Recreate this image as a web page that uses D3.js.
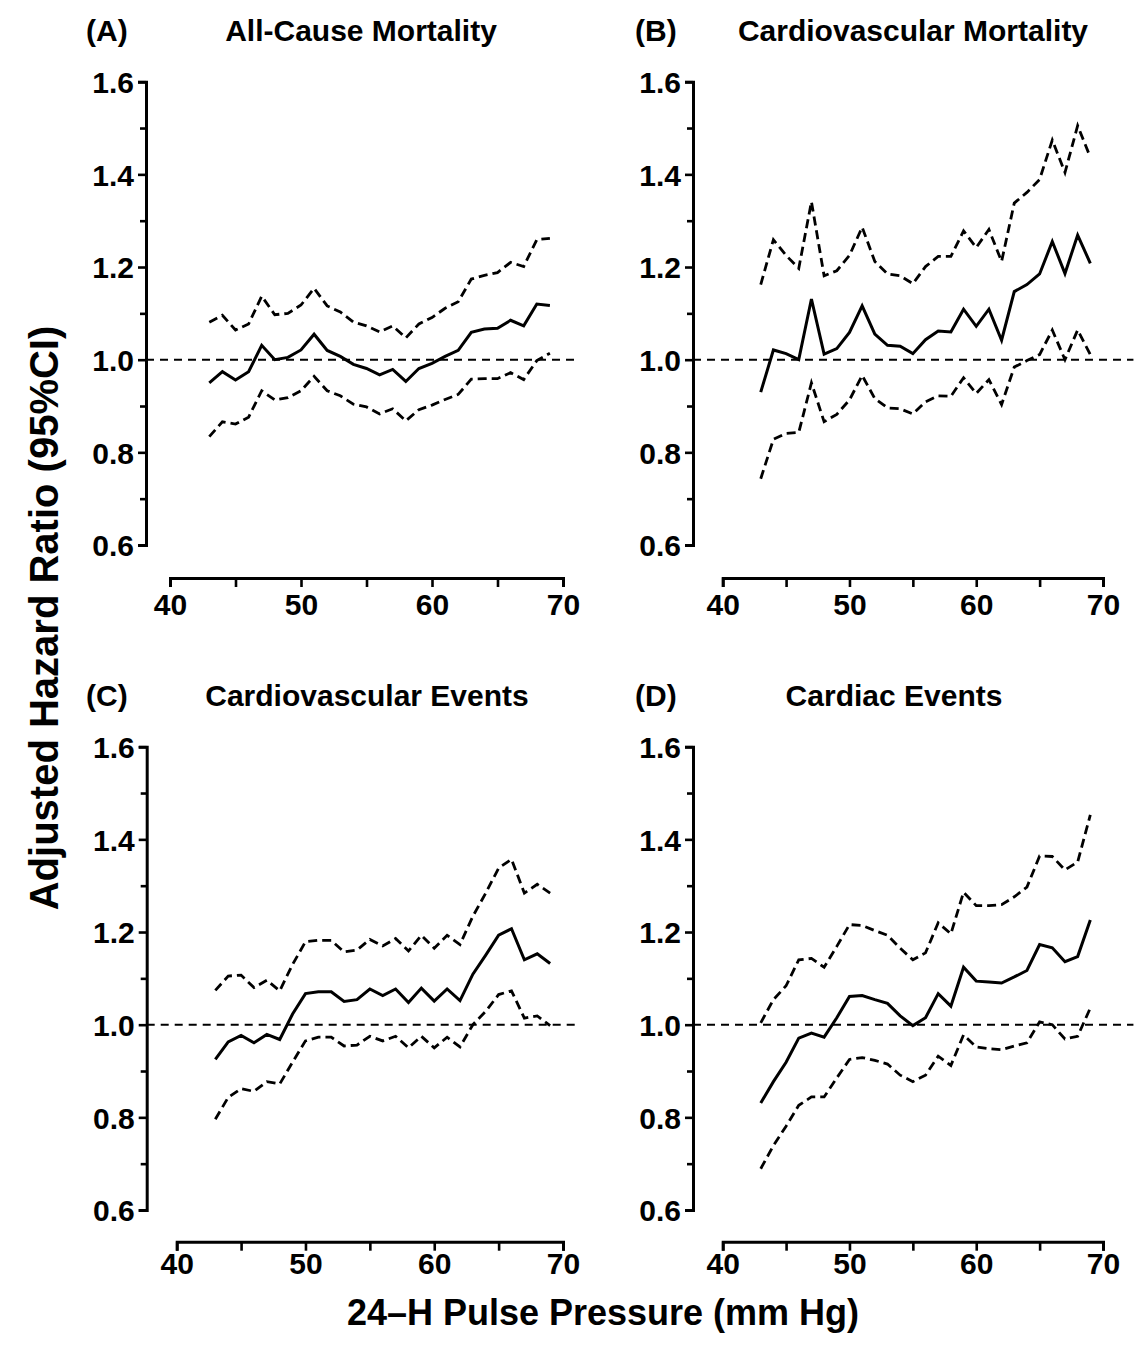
<!DOCTYPE html>
<html>
<head>
<meta charset="utf-8">
<script src="https://cdn.jsdelivr.net/npm/d3@7"></script>
<style>
  body { margin: 0; background: #fff; }
  svg { display: block; }
  text { font-family: "Liberation Sans", Arial, Helvetica, sans-serif; font-weight: bold; fill: #000; }
</style>
</head>
<body>
<div id="chart"></div>
<script>
// pulse pressure (mm Hg) at which each ratio was estimated
const pulsePressure = [43,44,45,46,47,48,49,50,51,52,53,54,55,56,57,58,59,60,61,62,63,64,65,66,67,68,69]

// (A) all-cause mortality
const allCauseHR = [0.950,0.974,0.956,0.974,1.031,1.000,1.005,1.021,1.055,1.020,1.007,0.990,0.981,0.967,0.979,0.953,0.981,0.992,1.007,1.020,1.059,1.066,1.068,1.085,1.073,1.120,1.117]
const allCauseHi = [1.081,1.096,1.064,1.077,1.137,1.097,1.100,1.118,1.154,1.116,1.103,1.081,1.073,1.060,1.073,1.047,1.077,1.091,1.111,1.125,1.174,1.182,1.188,1.210,1.201,1.259,1.262]
const allCauseLo = [0.834,0.866,0.861,0.876,0.933,0.913,0.918,0.933,0.964,0.933,0.922,0.904,0.898,0.883,0.894,0.868,0.892,0.902,0.914,0.925,0.958,0.959,0.959,0.972,0.957,0.998,1.014]

// (B) cardiovascular mortality
const cvMortHR = [0.930,1.021,1.013,1.000,1.131,1.012,1.024,1.059,1.116,1.055,1.031,1.029,1.013,1.043,1.062,1.060,1.109,1.072,1.109,1.042,1.147,1.162,1.185,1.255,1.186,1.269,1.208]
const cvMortHi = [1.162,1.259,1.225,1.197,1.341,1.181,1.192,1.225,1.286,1.212,1.185,1.181,1.164,1.201,1.223,1.223,1.278,1.242,1.281,1.212,1.338,1.361,1.389,1.474,1.404,1.505,1.437]
const cvMortLo = [0.743,0.828,0.841,0.843,0.950,0.866,0.882,0.913,0.966,0.916,0.896,0.894,0.883,0.909,0.922,0.921,0.961,0.927,0.957,0.903,0.984,0.998,1.011,1.064,1.000,1.064,1.011]

// (C) cardiovascular events
const cvEventHR = [0.925,0.963,0.977,0.961,0.979,0.968,1.023,1.067,1.071,1.071,1.050,1.054,1.077,1.063,1.077,1.048,1.079,1.051,1.077,1.052,1.109,1.150,1.193,1.207,1.140,1.153,1.132]
const cvEventHi = [1.074,1.105,1.107,1.080,1.096,1.073,1.130,1.179,1.182,1.182,1.157,1.161,1.184,1.170,1.186,1.159,1.193,1.165,1.193,1.173,1.234,1.284,1.338,1.357,1.284,1.303,1.284]
const cvEventLo = [0.796,0.843,0.862,0.856,0.877,0.872,0.919,0.965,0.973,0.973,0.954,0.956,0.975,0.965,0.975,0.950,0.975,0.950,0.973,0.952,1.000,1.029,1.065,1.073,1.014,1.019,0.998]

// (D) cardiac events
const cardiacHR = [0.831,0.877,0.919,0.971,0.982,0.973,1.015,1.061,1.063,1.054,1.046,1.019,0.998,1.015,1.067,1.040,1.124,1.094,1.092,1.090,1.103,1.117,1.173,1.166,1.136,1.147,1.226]
const cardiacHi = [1.004,1.054,1.084,1.140,1.143,1.124,1.169,1.216,1.214,1.203,1.193,1.165,1.140,1.155,1.220,1.196,1.286,1.257,1.257,1.259,1.276,1.297,1.364,1.363,1.334,1.351,1.453]
const cardiacLo = [0.689,0.739,0.781,0.826,0.844,0.844,0.885,0.925,0.929,0.923,0.915,0.891,0.877,0.891,0.932,0.912,0.978,0.952,0.948,0.946,0.954,0.961,1.006,1.000,0.969,0.975,1.036]

const yTicks = [0.6,0.7,0.8,0.9,1.0,1.1,1.2,1.3,1.4,1.5,1.6]
const yLabels = [0.6,0.8,1.0,1.2,1.4,1.6]
const xTicks = [40,45,50,55,60,65,70]
const xLabels = [40,50,60,70]

const width = 1137
const height = 1359

const panels = [
    { letter: "(A)", title: "All-Cause Mortality", hr: allCauseHR, lo: allCauseLo, hi: allCauseHi,
      axisX: 146, xr: [170, 563], yr: [545, 81.7], baseY: 578, labelY: 37, refEnd: 71.2, letterX: 86, titleX: 361 },
    { letter: "(B)", title: "Cardiovascular Mortality", hr: cvMortHR, lo: cvMortLo, hi: cvMortHi,
      axisX: 693, xr: [722.7, 1103], yr: [545, 81.7], baseY: 578, labelY: 37, refEnd: 72.4, letterX: 635, titleX: 913 },
    { letter: "(C)", title: "Cardiovascular Events", hr: cvEventHR, lo: cvEventLo, hi: cvEventHi,
      axisX: 146.7, xr: [176.7, 563], yr: [1210, 746.7], baseY: 1241.7, labelY: 32, refEnd: 71.2, letterX: 86, titleX: 367 },
    { letter: "(D)", title: "Cardiac Events", hr: cardiacHR, lo: cardiacLo, hi: cardiacHi,
      axisX: 693, xr: [722.7, 1103], yr: [1210, 746.7], baseY: 1241.7, labelY: 32, refEnd: 72.4, letterX: 635, titleX: 894 }
]

const svg = d3.select("#chart")
    .append("svg")
    .attr("width", width)
    .attr("height", height)

function isMajor(d) {
    return yLabels.some(v => Math.abs(v - d) < 1e-6)
}

function drawPanel(p) {
    let x = d3.scaleLinear().domain([40, 70]).range(p.xr)
    let y = d3.scaleLinear().domain([0.6, 1.6]).range(p.yr)
    let g = svg.append("g")

    // y axis
    let yAxis = d3.axisLeft(y)
        .tickValues(yTicks)
        .tickSizeOuter(0)
        .tickSize(8)
        .tickPadding(4)
        .tickFormat(d => isMajor(d) ? d3.format(".1f")(d) : "")
    let ya = g.append("g")
        .attr("transform", "translate(" + p.axisX + ",0)")
        .call(yAxis)
    ya.select(".domain").attr("stroke-width", 3).attr("stroke", "#000")
    ya.selectAll(".tick line").attr("stroke-width", 2.6).attr("stroke", "#000")
        .attr("x2", d => isMajor(d) ? -8 : -6)
    ya.selectAll(".tick text").style("font-size", "30px").style("font-family", null).attr("fill", "#000")
        .attr("dy", "0.36em")

    // x axis
    let xAxis = d3.axisBottom(x)
        .tickValues(xTicks)
        .tickSizeOuter(0)
        .tickSize(9)
        .tickFormat(d => xLabels.includes(d) ? d : "")
    let xa = g.append("g")
        .attr("transform", "translate(0," + p.baseY + ")")
        .call(xAxis)
    xa.select(".domain").attr("stroke-width", 3).attr("stroke", "#000")
    xa.selectAll(".tick line").attr("stroke-width", 2.6).attr("stroke", "#000")
    xa.selectAll(".tick text").style("font-size", "30px").style("font-family", null).attr("fill", "#000")
        .attr("y", p.labelY).attr("dy", 0)

    // reference line at HR = 1
    g.append("line")
        .attr("x1", p.axisX).attr("x2", x(p.refEnd))
        .attr("y1", y(1)).attr("y2", y(1))
        .attr("stroke", "#000")
        .attr("stroke-width", 2)
        .attr("stroke-dasharray", "8,6")

    let line = d3.line()
        .x((d, i) => x(pulsePressure[i]))
        .y(d => y(d))

    g.append("path").datum(p.hi).attr("d", line)
        .attr("fill", "none").attr("stroke", "#000").attr("stroke-width", 2.8)
        .attr("stroke-dasharray", "9,5")
    g.append("path").datum(p.lo).attr("d", line)
        .attr("fill", "none").attr("stroke", "#000").attr("stroke-width", 2.8)
        .attr("stroke-dasharray", "9,5")
    g.append("path").datum(p.hr).attr("d", line)
        .attr("fill", "none").attr("stroke", "#000").attr("stroke-width", 3)

    // titles
    let ty = y(1.6) - 41
    g.append("text").attr("x", p.letterX).attr("y", ty)
        .style("font-size", "30px").text(p.letter)
    g.append("text").attr("x", p.titleX).attr("y", ty)
        .attr("text-anchor", "middle")
        .style("font-size", "30px").text(p.title)
}

panels.forEach(drawPanel)

svg.append("text")
    .attr("transform", "translate(58,618) rotate(-90)")
    .attr("text-anchor", "middle")
    .style("font-size", "40px")
    .text("Adjusted Hazard Ratio (95%CI)")

svg.append("text")
    .attr("x", 603).attr("y", 1325)
    .attr("text-anchor", "middle")
    .style("font-size", "36px")
    .text("24\u2013H Pulse Pressure (mm Hg)")
</script>
</body>
</html>
